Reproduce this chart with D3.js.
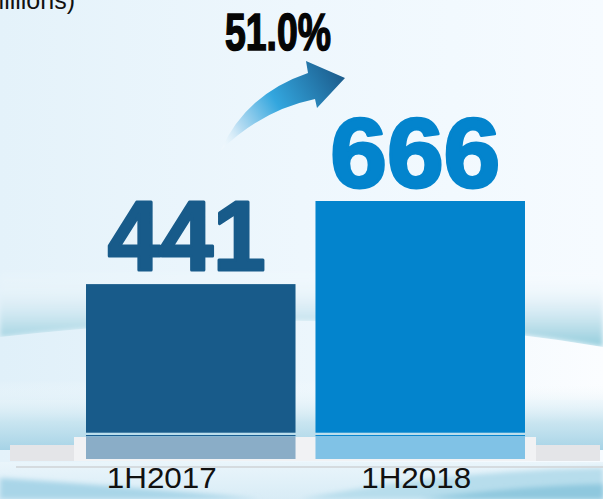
<!DOCTYPE html>
<html>
<head>
<meta charset="utf-8">
<script src="https://cdn.jsdelivr.net/npm/d3@7/dist/d3.min.js"></script>
<style>
html,body{margin:0;padding:0;background:#fff;overflow:hidden;}
svg{display:block;}
</style>
</head>
<body>
<svg id="chart" width="603" height="499"></svg>
<script>
// ---- data ----
const categories = ["1H2017", "1H2018"];
const values = [441, 666];
const valueLabels = ["441", "666"];
const growthLabel = "51.0%";
const unitLabel = "(RMB millions)";

// ---- styles / layout ----
const barColors = ["#185b8a", "#0384cd"];
const reflColors = ["#8aadc7", "#80c2e6"];
const lineColors = ["#1a5f93", "#0a86cf"];
const LABEL_SHIFT = [-29, -4];
const VALUE_SHIFT = [-4, -5];

const W = 603, H = 499;
const svg = d3.select("#chart");
const defs = svg.append("defs");

function linGrad(id, x1, y1, x2, y2, stops) {
  const g = defs.append("linearGradient").attr("id", id)
    .attr("gradientUnits", "userSpaceOnUse")
    .attr("x1", x1).attr("y1", y1).attr("x2", x2).attr("y2", y2);
  stops.forEach(s => g.append("stop").attr("offset", s[0]).attr("stop-color", s[1]).attr("stop-opacity", s[2] == null ? 1 : s[2]));
  return "url(#" + id + ")";
}
defs.append("filter").attr("id", "blur").attr("x", "-10%").attr("y", "-50%").attr("width", "120%").attr("height", "200%")
  .append("feGaussianBlur").attr("stdDeviation", 2.5);

// ---- background ----
svg.append("rect").attr("width", W).attr("height", H)
  .attr("fill", linGrad("bg", 0, 0, W, 0, [[0, "#e4f2fa"], [0.5, "#eef7fd"], [1, "#f6fbff"]]));
// upper wave band
svg.append("path")
  .attr("d", "M0,270 L603,270 L603,347 Q330,300 0,337 Z")
  .attr("fill", linGrad("w1", 0, 270, 0, 345, [[0, "#ffffff", 0], [0.55, "#cfe7f1", 0.8], [1, "#96cedd", 1]]))
  .attr("filter", "url(#blur)");
svg.append("path")
  .attr("d", "M0,337 Q330,300 603,347 L603,400 L0,400 Z")
  .attr("fill", linGrad("w1b", 0, 320, W, 320, [[0, "#e0f0f9"], [0.6, "#eef7fd"], [1, "#fbfdff"]]));
// lower band
svg.append("rect").attr("x", 0).attr("y", 380).attr("width", W).attr("height", 70)
  .attr("fill", linGrad("w2", 0, 380, 0, 450, [[0, "#ffffff", 0], [0.6, "#c5e3ef", 0.9], [1, "#a6d3e6", 1]]));
// bottom area
svg.append("rect").attr("x", 0).attr("y", 462).attr("width", W).attr("height", 37)
  .attr("fill", linGrad("w3", 0, 462, 0, 499, [[0, "#eaf5fb"], [1, "#d8ecf6"]]));
svg.append("path")
  .attr("d", "M0,478 Q120,486 260,499 L0,499 Z")
  .attr("fill", "#a9d5e8").attr("filter", "url(#blur)");
svg.append("path")
  .attr("d", "M300,499 Q450,470 603,468 L603,499 Z")
  .attr("fill", "#b7ddec").attr("filter", "url(#blur)");
svg.append("path")
  .attr("d", "M420,499 Q520,486 603,484 L603,499 Z")
  .attr("fill", "#8fc8de").attr("filter", "url(#blur)");

// ---- floor bands ----
svg.append("rect").attr("x", 10).attr("y", 445).attr("width", 590).attr("height", 16).attr("fill", "#e4e5e8");
svg.append("rect").attr("x", 74).attr("y", 437).attr("width", 462).attr("height", 24).attr("fill", "#f1f2f4");
svg.append("rect").attr("x", 16).attr("y", 466).attr("width", 587).attr("height", 2).attr("fill", "#d3d8dc").attr("opacity", 0.9);

// ---- scales ----
const x = d3.scaleBand().domain(categories).range([86, 525]).paddingInner(0.087).paddingOuter(0);
const y = d3.scaleLinear().domain([0, 666]).range([447, 201]);
const barBottom = 432.7;

const g = svg.append("g");
categories.forEach((c, i) => {
  g.append("rect")
    .attr("x", x(c)).attr("y", y(values[i]))
    .attr("width", x.bandwidth()).attr("height", barBottom - y(values[i]))
    .attr("fill", barColors[i]);
  g.append("rect")
    .attr("x", x(c)).attr("y", 435).attr("width", x.bandwidth()).attr("height", 1.3)
    .attr("fill", lineColors[i]);
  g.append("rect")
    .attr("x", x(c)).attr("y", 437).attr("width", x.bandwidth()).attr("height", 22)
    .attr("fill", reflColors[i]);
  // value label
  g.append("text")
    .attr("x", x(c) + x.bandwidth() / 2 + VALUE_SHIFT[i])
    .attr("y", y(values[i]) - 14)
    .attr("text-anchor", "middle")
    .attr("font-family", "Liberation Sans, Arial, sans-serif")
    .attr("font-weight", "bold")
    .attr("font-size", 99)
    .attr("fill", barColors[i])
    .attr("stroke", barColors[i]).attr("stroke-width", 3).attr("stroke-linejoin", "round")
    .attr("textLength", i === 0 ? 158 : 170)
    .attr("lengthAdjust", "spacingAndGlyphs")
    .text(valueLabels[i]);
  // category label
  g.append("text")
    .attr("x", x(c) + x.bandwidth() / 2 + LABEL_SHIFT[i])
    .attr("y", 487.7)
    .attr("text-anchor", "middle")
    .attr("font-family", "Liberation Sans, Arial, sans-serif")
    .attr("font-size", 29.5)
    .attr("fill", "#111")
    .attr("textLength", 110)
    .attr("lengthAdjust", "spacingAndGlyphs")
    .text(c);
});

// ---- growth arrow ----
svg.append("path")
  .attr("d", "M221,150 Q246,94 308,73 L306,61 L345,78 L317,108 L315,99 Q262,110 221,150 Z")
  .attr("fill", linGrad("arr", 220, 150, 345, 75, [[0, "#ffffff", 0.3], [0.2, "#b6dcf2", 1], [0.5, "#33a6de", 1], [1, "#1b5a8a", 1]]));

svg.append("text")
  .attr("x", 278).attr("y", 49.5)
  .attr("text-anchor", "middle")
  .attr("font-family", "Liberation Sans, Arial, sans-serif")
  .attr("font-weight", "bold")
  .attr("font-size", 52)
  .attr("fill", "#050505")
  .attr("stroke", "#050505").attr("stroke-width", 1.6)
  .attr("textLength", 106)
  .attr("lengthAdjust", "spacingAndGlyphs")
  .text(growthLabel);

svg.append("text")
  .attr("x", 75).attr("y", 9)
  .attr("text-anchor", "end")
  .attr("font-family", "Liberation Sans, Arial, sans-serif")
  .attr("font-size", 25)
  .attr("fill", "#111")
  .text(unitLabel);
</script>
</body>
</html>
